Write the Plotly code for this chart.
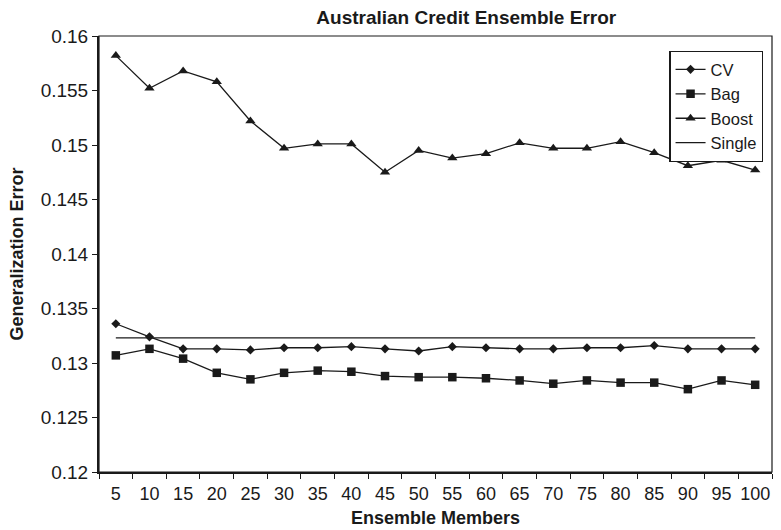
import plotly.graph_objects as go

members = ["5", "10", "15", "20", "25", "30", "35", "40", "45", "50",
           "55", "60", "65", "70", "75", "80", "85", "90", "95", "100"]
cv = [0.1336, 0.1324, 0.1313, 0.1313, 0.1312, 0.1314, 0.1314, 0.1315, 0.1313, 0.1311,
      0.1315, 0.1314, 0.1313, 0.1313, 0.1314, 0.1314, 0.1316, 0.1313, 0.1313, 0.1313]
bag = [0.1307, 0.1313, 0.1304, 0.1291, 0.1285, 0.1291, 0.1293, 0.1292, 0.1288, 0.1287,
       0.1287, 0.1286, 0.1284, 0.1281, 0.1284, 0.1282, 0.1282, 0.1276, 0.1284, 0.1280]
boost = [0.1582, 0.1552, 0.1568, 0.1558, 0.1522, 0.1497, 0.1501, 0.1501, 0.1475, 0.1495,
         0.1488, 0.1492, 0.1502, 0.1497, 0.1497, 0.1503, 0.1493, 0.1481, 0.1486, 0.1477]
single = [0.1323, 0.1323, 0.1323, 0.1323, 0.1323, 0.1323, 0.1323, 0.1323, 0.1323, 0.1323,
          0.1323, 0.1323, 0.1323, 0.1323, 0.1323, 0.1323, 0.1323, 0.1323, 0.1323, 0.1323]
y_ticks = [0.12, 0.125, 0.13, 0.135, 0.14, 0.145, 0.15, 0.155, 0.16]
y_tick_text = ["0.12", "0.125", "0.13", "0.135", "0.14", "0.145", "0.15", "0.155", "0.16"]

INK = "#1a1a1a"
FONT = "Liberation Sans, Arial, sans-serif"

fig = go.Figure()
fig.add_trace(go.Scatter(x=members, y=cv, name="CV", mode="lines+markers",
                         line=dict(color=INK, width=1.3),
                         marker=dict(symbol="diamond", size=7, color=INK)))
fig.add_trace(go.Scatter(x=members, y=bag, name="Bag", mode="lines+markers",
                         line=dict(color=INK, width=1.3),
                         marker=dict(symbol="square", size=8.5, color=INK)))
fig.add_trace(go.Scatter(x=members, y=boost, name="Boost", mode="lines+markers",
                         line=dict(color=INK, width=1.3),
                         marker=dict(symbol="triangle-up", size=9, color=INK)))
fig.add_trace(go.Scatter(x=members, y=single, name="Single", mode="lines",
                         line=dict(color=INK, width=1.3)))

fig.update_layout(
    width=781, height=530,
    margin=dict(l=99, r=9, t=36, b=58),
    paper_bgcolor="white", plot_bgcolor="white",
    font=dict(family=FONT, color=INK, size=19),
    title=dict(text="<b>Australian Credit Ensemble Error</b>", x=0.597, xanchor="center",
               y=0.968, yanchor="middle", font=dict(size=19, family=FONT, color=INK)),
    showlegend=True,
    legend=dict(x=0.987, xanchor="right", y=0.966, yanchor="top",
                bgcolor="white", bordercolor=INK, borderwidth=1.3,
                font=dict(size=16.5, family=FONT, color=INK),
                itemwidth=30, tracegroupgap=0),
    shapes=[dict(type="rect", xref="paper", yref="paper", x0=0, y0=0, x1=1, y1=1,
                 line=dict(color=INK, width=1.2), layer="above")],
)
fig.update_xaxes(type="category", range=[-0.5, 19.5], showgrid=False, showline=True,
                 linecolor=INK, linewidth=2,
                 ticks="outside", tickson="boundaries", ticklen=5, tickcolor=INK, tickwidth=1.3,
                 tickfont=dict(size=18), tickangle=0, ticklabelstandoff=4,
                 zeroline=False, automargin=False,
                 title=dict(text="<b>Ensemble Members</b>", font=dict(size=18), standoff=9))
fig.update_yaxes(range=[0.12, 0.16], tickvals=y_ticks, ticktext=y_tick_text,
                 showgrid=False, showline=True, linecolor=INK, linewidth=2,
                 ticks="outside", ticklen=5, tickcolor=INK, tickwidth=1.3,
                 tickfont=dict(size=19), zeroline=False, automargin=False,
                 title=dict(text="<b>Generalization Error</b>", font=dict(size=18), standoff=12))

fig.write_html("out.html", config={"displayModeBar": False},
               post_script="document.body.style.margin='0px';")
